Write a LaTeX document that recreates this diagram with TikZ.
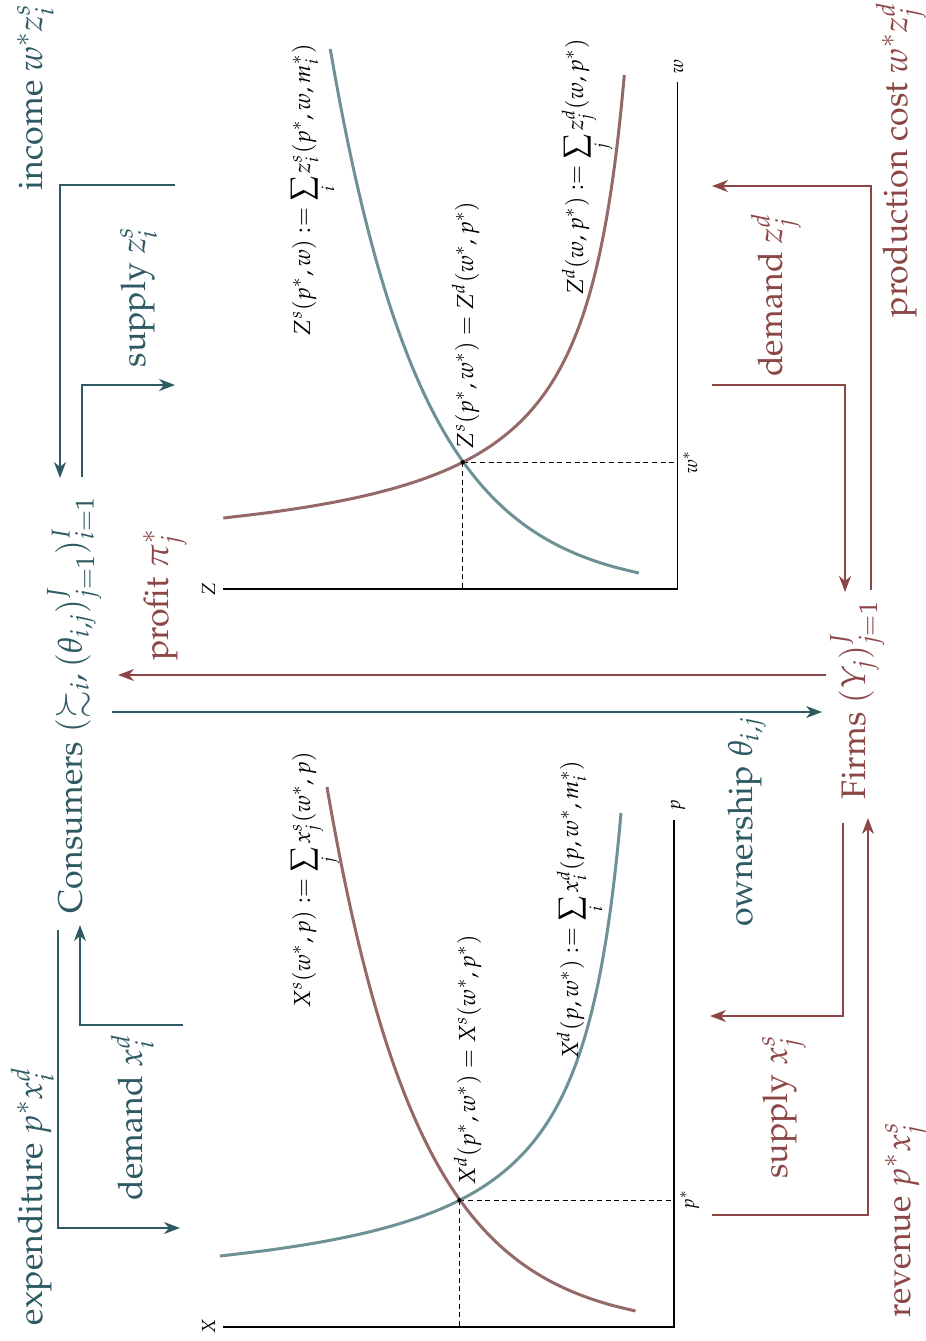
\documentclass[tikz,border=0pt]{standalone}
\usepackage[T1]{fontenc}
\usepackage{mathpazo}
\usepackage{amssymb}
\usepackage{graphicx}
\usetikzlibrary{arrows.meta}
\definecolor{cteal}{HTML}{2E5A64}
\definecolor{cred}{HTML}{8C4646}
\definecolor{cteall}{HTML}{6E9196}
\definecolor{credl}{HTML}{966969}
\newcommand{\bigsumop}{\mathop{\vcenter{\hbox{\scalebox{1.3}{$\textstyle\sum$}}}}\limits}
\begin{document}
\begin{tikzpicture}[x=0.5pt,y=-0.5pt,
  big/.style={rotate=90,anchor=base,font=\fontsize{17}{20}\selectfont},
  mid/.style={rotate=90,anchor=base,font=\fontsize{11.6}{14}\selectfont},
  sml/.style={rotate=90,anchor=base,font=\fontsize{9.5}{11}\selectfont},
  conn/.style={line width=0.8pt,-{Stealth[length=8pt,width=6pt,inset=2.5pt]}},
  axisline/.style={line width=0.6pt},
  guide/.style={line width=0.5pt,dash pattern=on 2.5pt off 1.8pt},
  curve/.style={line width=1.5pt}]
\useasboundingbox (0,0) rectangle (926,1341);

% ---------- big labels ----------
\node[big,cteal] (income) at (42,97) {income $w^*z_i^s$};
\node[big,cteal] (supz) at (145,297) {supply $z_i^s$};
\node[big,cteal] (cons) at (82,705) {Consumers $(\succsim_i, (\theta_{i,j})_{j=1}^J)_{i=1}^I$};
\node[big,cred] (profit) at (168,595) {profit $\pi_j^*$};
\node[big,cteal] (expend) at (42,1196) {expenditure $p^*x_i^d$};
\node[big,cteal] (demx) at (142,1117) {demand $x_i^d$};
\node[big,cred] (prodcost) at (907,160) {production cost $w^*z_j^d$};
\node[big,cred] (demz) at (782,295) {demand $z_j^d$};
\node[big,cred] (firms) at (865,700) {Firms $(Y_j)_{j=1}^J$};
\node[big,cteal] (own) at (752,822) {ownership $\theta_{i,j}$};
\node[big,cred] (supx) at (787,1107) {supply $x_j^s$};
\node[big,cred] (rev) at (910,1220) {revenue $p^*x_j^s$};

% ---------- connector end points ----------
\coordinate (inA) at (175,185);   \coordinate (inB) at (60,478);
\coordinate (szA) at (82,477);    \coordinate (szB) at (175,385);
\coordinate (exA) at (58,930);    \coordinate (exB) at (180,1228);
\coordinate (dxA) at (183,1025);  \coordinate (dxB) at (80,925);
\coordinate (owA) at (112,712);   \coordinate (owB) at (822,712);
\coordinate (prA) at (826,675);   \coordinate (prB) at (118,675);
\coordinate (pcA) at (871,590);   \coordinate (pcB) at (712,186);
\coordinate (dzA) at (712,385);   \coordinate (dzB) at (845,592);
\coordinate (sxA) at (843,823);   \coordinate (sxB) at (710,1016);
\coordinate (rvA) at (712,1215);  \coordinate (rvB) at (868,818);

\draw[conn,cteal] (inA) -| (inB);
\draw[conn,cteal] (szA) |- (szB);
\draw[conn,cteal] (exA) |- (exB);
\draw[conn,cteal] (dxA) -| (dxB);
\draw[conn,cteal] (owA) -- (owB);
\draw[conn,cred] (prA) -- (prB);
\draw[conn,cred] (pcA) |- (pcB);
\draw[conn,cred] (dzA) -| (dzB);
\draw[conn,cred] (sxA) |- (sxB);
\draw[conn,cred] (rvA) -| (rvB);

% ---------- top plot (factor market) ----------
\coordinate (tO) at (677.3,589);
\coordinate (tZend) at (223,589);
\coordinate (twend) at (677.3,82);
\coordinate (tE) at (462.7,462.3);
\coordinate (tEw) at (677.3,462.3);
\coordinate (tEz) at (462.7,589);
\draw[axisline] (tZend) -- (tO) -- (twend);
\draw[guide] (tE) -- (tEw);
\draw[guide] (tE) -- (tEz);
\draw[curve,cteall] plot[domain=16:540,samples=90,smooth] ({677.3-(-241.3+93.4*ln(\x+4))},{589-\x});
\draw[curve,credl] plot[domain=71:514,samples=90,smooth] ({677.3-(211.52/((\x-23.37)/100)+9.89)},{589-\x});
\fill (tE) circle[radius=1.1pt];
\node[sml] (tZ) at (215,589) {$Z$};
\node[sml] (tw) at (683,67) {$w$};
\node[sml] (tws) at (697,462) {$w^*$};
\node[mid] (tls) at (310,190) {$Z^s(p^*,w) := \bigsumop_i z_i^s(p^*,w,m_i^*)$};
\node[mid] (tle) at (473,325) {$Z^s(p^*,w^*) = Z^d(w^*,p^*)$};
\node[mid] (tld) at (583,167) {$Z^d(w,p^*) := \bigsumop_j z_j^d(w,p^*)$};

% ---------- bottom plot (goods market) ----------
\begin{scope}[shift={(-3.3,738)}]
\coordinate (bO) at (677.3,589);
\coordinate (bXend) at (226,589);
\coordinate (bpend) at (677.3,82);
\coordinate (bE) at (462.7,462.3);
\coordinate (bEp) at (677.3,462.3);
\coordinate (bEx) at (462.7,589);
\draw[axisline] (bXend) -- (bO) -- (bpend);
\draw[guide] (bE) -- (bEp);
\draw[guide] (bE) -- (bEx);
\draw[curve,credl] plot[domain=16:540,samples=90,smooth] ({677.3-(-241.3+93.4*ln(\x+4))},{589-\x});
\draw[curve,cteall] plot[domain=71:514,samples=90,smooth] ({677.3-(211.52/((\x-23.37)/100)+9.89)},{589-\x});
\fill (bE) circle[radius=1.1pt];
\end{scope}
\node[sml] (bX) at (215,1327) {$X$};
\node[sml] (bp) at (680,805) {$p$};
\node[sml] (bps) at (694,1200) {$p^*$};
\node[mid] (bls) at (310,880) {$X^s(w^*,p) := \bigsumop_j x_j^s(w^*,p)$};
\node[mid] (ble) at (475,1060) {$X^d(p^*,w^*) = X^s(w^*,p^*)$};
\node[mid] (bld) at (578,910) {$X^d(p,w^*) := \bigsumop_i x_i^d(p,w^*,m_i^*)$};
\end{tikzpicture}
\end{document}
